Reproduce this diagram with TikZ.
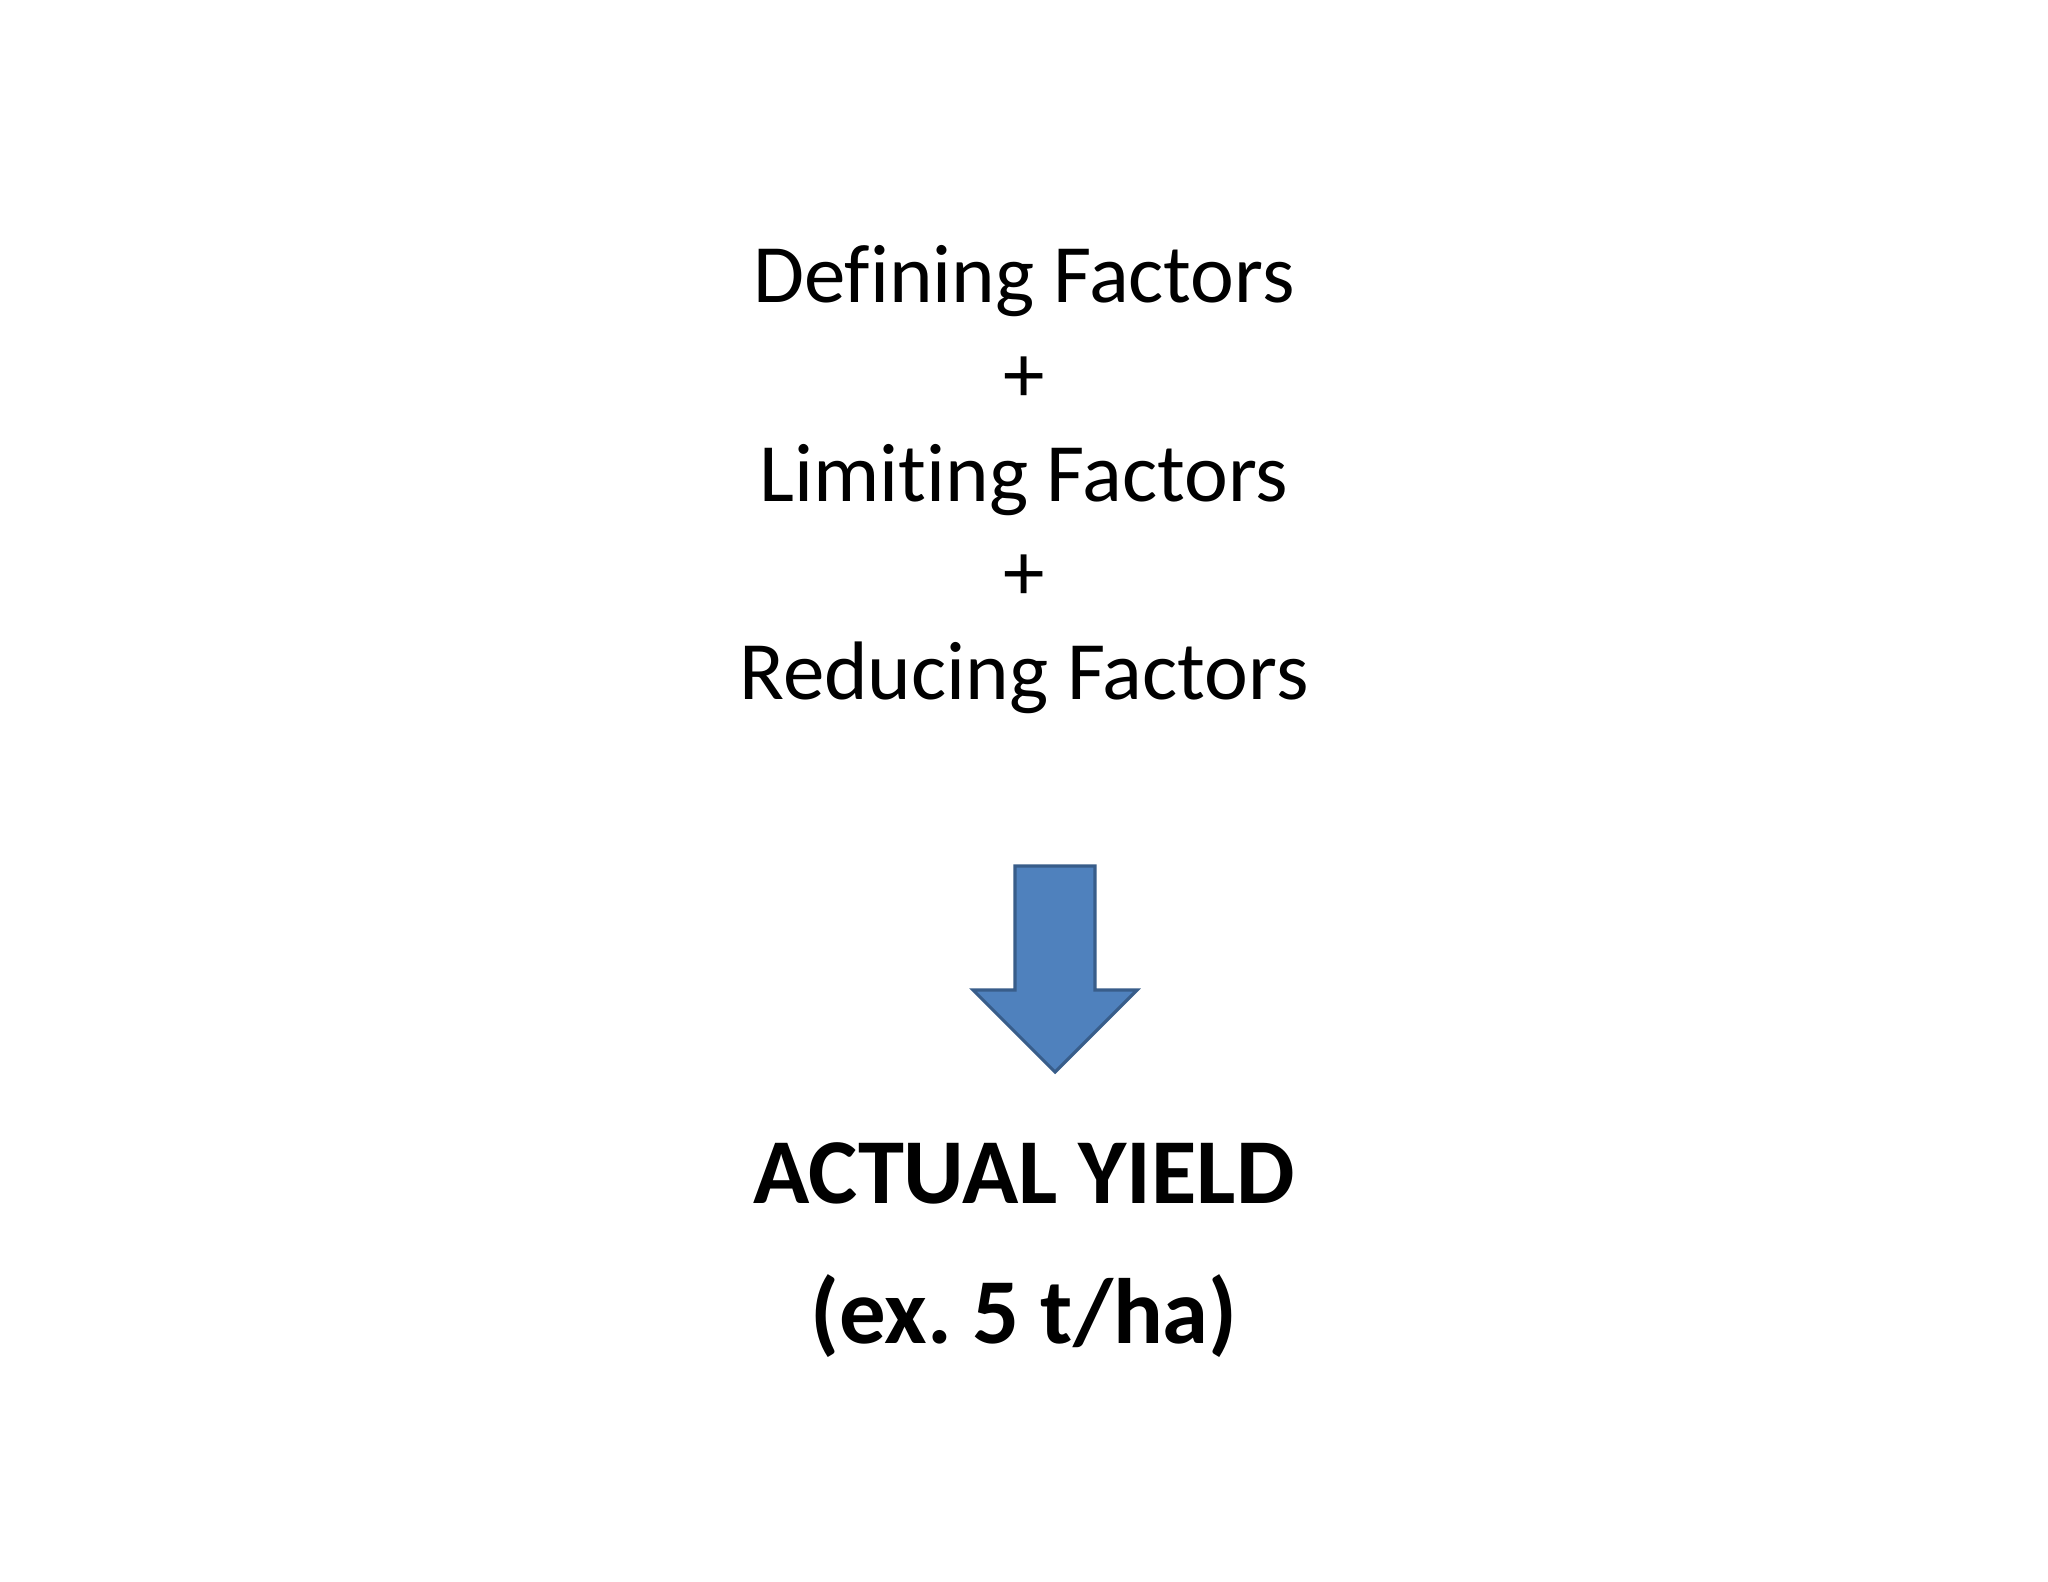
\documentclass[tikz,border=0pt]{standalone}
\usepackage{fontspec}
\setmainfont{Carlito}[Ligatures=NoCommon]
\frenchspacing
\definecolor{arrowfill}{HTML}{4F81BD}
\definecolor{arrowline}{HTML}{385D8A}
\tikzset{
    factor/.style={anchor=base, inner sep=0pt, font=\fontsize{23.6}{28}\selectfont},
    yield/.style={anchor=base, inner sep=0pt, font=\fontsize{26.4}{32}\selectfont\bfseries}
}
\begin{document}
\begin{tikzpicture}[x=0.01cm, y=-0.01cm]
        % Pagina
        \useasboundingbox[fill=white] (0,0) rectangle (2048,1582);

        % Fattori
        \node[factor] (defining) at (1024,303) {Defining Factors};
        \node[factor] (plusone) at (1024,402) {+};
        \node[factor] (limiting) at (1024,501) {Limiting Factors};
        \node[factor] (plustwo) at (1024,600) {+};
        \node[factor] (reducing) at (1024,699) {Reducing Factors};

        % Freccia verso il basso
        \draw[arrowline, fill=arrowfill, line width=0.9pt, line join=miter]
            (1015,866) -- (1095,866) -- (1095,990) -- (1137,990)
            -- (1055,1072) -- (973,990) -- (1015,990) -- cycle;

        % Resa
        \node[yield] (actual) at (1024,1203) {ACTUAL YIELD};
        \node[yield] (example) at (1024,1343) {(ex. 5 t/ha)};
    \end{tikzpicture}
\end{document}
